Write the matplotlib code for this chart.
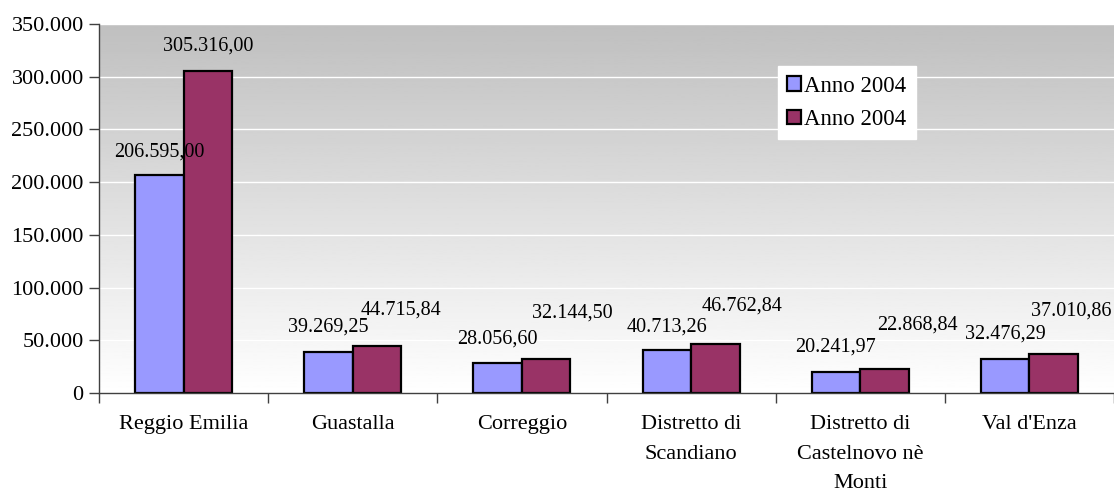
import numpy as np
import matplotlib
matplotlib.use("Agg")
import matplotlib.pyplot as plt
from matplotlib.ticker import FuncFormatter

# -------------------------------
# DATA
# -------------------------------
categories = ["Reggio Emilia", "Guastalla", "Correggio", "Distretto di\nScandiano",
              "Distretto di\nCastelnovo nè\nMonti", "Val d'Enza"]
series_names = ["Anno 2004", "Anno 2004"]
values_a = [206595.00, 39269.25, 28056.60, 40713.26, 20241.97, 32476.29]
values_b = [305316.00, 44715.84, 32144.50, 46762.84, 22868.84, 37010.86]
yticks = [0, 50000, 100000, 150000, 200000, 250000, 300000, 350000]

# label offsets (points) - labels were moved by hand in the original
off_a = [(0, 10), (0, 11), (0, 11), (0, 10), (0, 11), (0, 11)]
off_b = [(0, 11), (17, 19), (19, 26), (19, 20), (24, 25), (13, 24)]

COL_A = "#9999FF"
COL_B = "#993366"

plt.rcParams["font.family"] = ["Liberation Serif", "DejaVu Serif"]

fig = plt.figure(figsize=(11.14, 4.95), dpi=100)
ax = fig.add_axes([99 / 1114, 102 / 495, 1 - 99 / 1114, 369 / 495])

x = np.arange(len(categories))
w = 0.287

# gradient background, white at the bottom, grey at the top
grad = np.linspace(1.0, 0.75, 256).reshape(-1, 1)
ax.imshow(grad, cmap="gray", vmin=0, vmax=1, aspect="auto", origin="lower",
          extent=(-0.5, len(categories) - 0.5, 0, 350000), zorder=0)

for t in yticks[1:]:
    ax.axhline(t, color="white", lw=1, zorder=1)

ba = ax.bar(x - w / 2, values_a, w, color=COL_A, edgecolor="black", lw=1.6,
            label=series_names[0], zorder=3)
bb = ax.bar(x + w / 2, values_b, w, color=COL_B, edgecolor="black", lw=1.6,
            label=series_names[1], zorder=3)


def fmt_it(v, dec=2):
    s = f"{v:,.{dec}f}"
    return s.replace(",", "X").replace(".", ",").replace("X", ".")


for bars, vals, offs in [(ba, values_a, off_a), (bb, values_b, off_b)]:
    for b, v, o in zip(bars, vals, offs):
        ax.annotate(fmt_it(v), (b.get_x() + b.get_width() / 2, v), xytext=o,
                    textcoords="offset points", ha="center", va="bottom",
                    fontsize=14.5, zorder=4, annotation_clip=False)

ax.set_xlim(-0.5, len(categories) - 0.5)
ax.set_ylim(0, 350000)
ax.set_yticks(yticks)
ax.yaxis.set_major_formatter(FuncFormatter(lambda v, p: fmt_it(v, 0)))
ax.tick_params(axis="y", labelsize=16, length=7, width=1, color="#404040", pad=4)

ax.set_xticks(np.arange(len(categories) + 1) - 0.5)
ax.set_xticklabels([])
ax.set_xticks(x, minor=True)
ax.set_xticklabels(categories, minor=True, fontsize=16, linespacing=1.75, va="top")
ax.tick_params(axis="x", which="major", length=7, width=1, color="#404040")
ax.tick_params(axis="x", which="minor", length=0, pad=16)

for s in ["top", "right"]:
    ax.spines[s].set_visible(False)
for s in ["left", "bottom"]:
    ax.spines[s].set_color("#404040")
    ax.spines[s].set_linewidth(1)
    ax.spines[s].set_zorder(5)

leg = ax.legend(loc="upper left", bbox_to_anchor=(0.669, 0.885), fontsize=16.5,
                frameon=True, fancybox=False, framealpha=1, edgecolor="white",
                handlelength=0.6, handleheight=0.6, handletextpad=0.15,
                borderpad=0.4, labelspacing=0.55, borderaxespad=0)

fig.savefig("out.png", dpi=100)
